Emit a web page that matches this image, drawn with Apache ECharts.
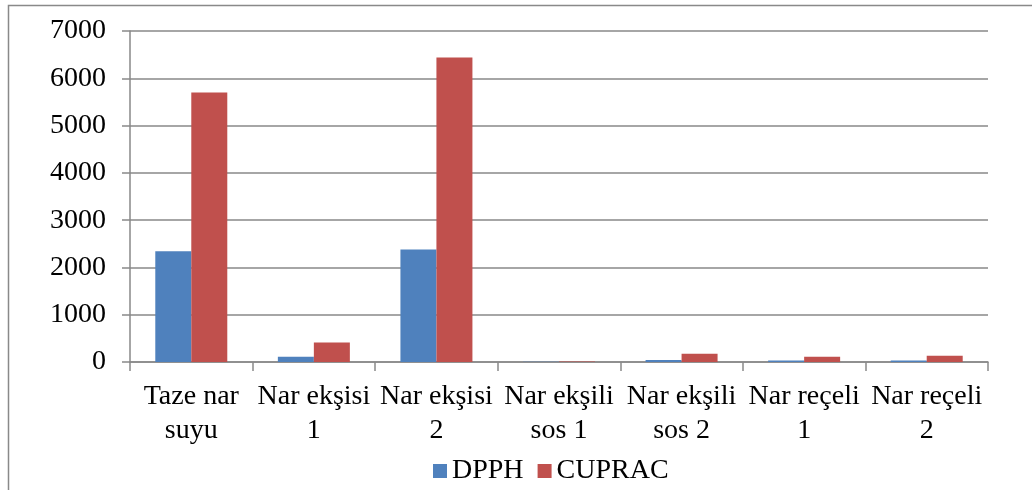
<!DOCTYPE html>
<html>
<head>
<meta charset="utf-8">
<script src="https://cdn.jsdelivr.net/npm/echarts@6/dist/echarts.min.js"></script>
<style>
  html, body { margin: 0; padding: 0; background: #fff; }
  #main { width: 1032px; height: 490px; }
</style>
</head>
<body>
<div id="main"></div>
<script>
// kategoriler ve seriler
const categories = ["Taze nar\nsuyu", "Nar ekşisi\n1", "Nar ekşisi\n2", "Nar ekşili\nsos 1", "Nar ekşili\nsos 2", "Nar reçeli\n1", "Nar reçeli\n2"];
const dpph = [2340, 110, 2380, 5, 40, 30, 30];
const cuprac = [5700, 410, 6440, 10, 175, 110, 130];
const seriesNames = ["DPPH", "CUPRAC"];

const font = "'Liberation Serif', 'Times New Roman', serif";
const gray = "#898989";

const chart = echarts.init(document.getElementById("main"));
chart.setOption({
  animation: false,
  color: ["#4F81BD", "#C0504D"],
  textStyle: { fontFamily: font },
  graphic: [
    {
      type: "rect",
      shape: { x: 8.5, y: 5.5, width: 1040, height: 500 },
      style: { fill: "none", stroke: gray, lineWidth: 1.5 },
      silent: true,
    },
  ],
  legend: {
    data: seriesNames,
    left: 428,
    top: 452,
    itemWidth: 14,
    itemHeight: 14,
    itemGap: 14,
    icon: "rect",
    textStyle: { fontFamily: font, fontSize: 28, color: "#000" },
  },
  grid: { left: 130, right: 44, top: 31, bottom: 128 },
  xAxis: {
    type: "category",
    data: categories,
    axisLine: { lineStyle: { color: gray, width: 1.5 } },
    axisTick: { show: true, length: 9, lineStyle: { color: gray, width: 1.5 } },
    axisLabel: {
      fontFamily: font,
      fontSize: 28,
      color: "#000",
      lineHeight: 34,
      margin: 18,
      interval: 0,
    },
  },
  yAxis: {
    type: "value",
    min: 0,
    max: 7000,
    interval: 1000,
    axisLine: { show: true, lineStyle: { color: gray, width: 1.5 } },
    axisTick: { show: true, length: 8, lineStyle: { color: gray, width: 1.5 } },
    splitLine: { lineStyle: { color: gray, width: 1.5 } },
    axisLabel: {
      fontFamily: font,
      fontSize: 28,
      color: "#000",
      margin: 24,
      formatter: v => String(v),
    },
  },
  series: [
    { name: seriesNames[0], type: "bar", data: dpph, barWidth: 36, barGap: "0%" },
    { name: seriesNames[1], type: "bar", data: cuprac, barWidth: 36, barGap: "0%" },
  ],
});
</script>
</body>
</html>
